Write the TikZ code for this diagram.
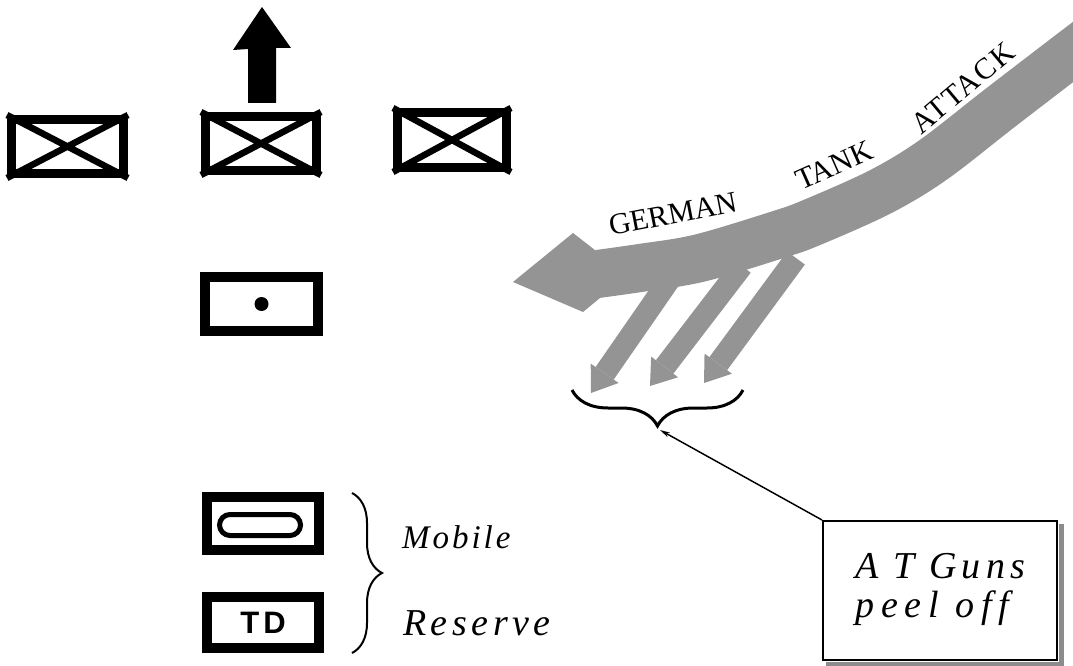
\documentclass[tikz,border=0pt]{standalone}
\usepackage{fontspec}
\newfontfamily\seriffam{Liberation Serif}
\newfontfamily\sansfam{Liberation Sans}
\usetikzlibrary{calc,decorations.pathreplacing,arrows.meta}

\begin{document}
\begin{tikzpicture}[x=1pt,y=-1pt,
  unitbox/.style={draw, line width=9pt, inner sep=0pt},
  heavybox/.style={draw, line width=10pt, inner sep=0pt},
  crossline/.style={line width=6.5pt},
  attack/.style={black!42},
  bandword/.style={inner sep=0pt, anchor=base west, font=\seriffam\fontsize{30pt}{32pt}\selectfont},
  bracemark/.style={decorate, line width=2pt},
  note/.style={inner sep=0pt, anchor=base west},
]
\useasboundingbox (0,0) rectangle (1073,666);

% --- infantry line with the advance arrow
\node[unitbox, minimum width=112pt, minimum height=54pt] (inf1) at (67.5,146.5) {};
\node[unitbox, minimum width=111pt, minimum height=54pt] (inf2) at (261,143.5) {};
\node[unitbox, minimum width=109pt, minimum height=55pt] (inf3) at (452,140) {};
\foreach \n in {inf1,inf2,inf3}{
  \draw[crossline] (\n.north west) -- (\n.south east) (\n.south west) -- (\n.north east);
}
\fill (248,103) -- (248,49) -- (233,50) -- (262,7) -- (291,48) -- (276,48) -- (276,103) -- cycle;

% --- headquarters
\node[heavybox, minimum width=113pt, minimum height=54pt] (hq) at (261.5,304) {};
\fill (hq.center) circle (7pt);

% --- mobile reserve
\node[heavybox, minimum width=112pt, minimum height=53pt] (armor) at (263,523.5) {};
\draw[line width=5pt, rounded corners=10.5pt]
  ($(armor.center)+(-43.5,-9)$) rectangle ($(armor.center)+(37.5,12)$);
\node[heavybox, minimum width=112pt, minimum height=51pt,
      font=\sansfam\bfseries\fontsize{31pt}{31pt}\selectfont] (td) at (263,622.5) {T\kern4pt D};

\draw[bracemark, decoration={brace, amplitude=30pt}] (352,493) -- (352,653);
\node[note, font=\seriffam\itshape\addfontfeature{LetterSpace=9}\fontsize{33pt}{35pt}\selectfont]
  (mobile) at (402,548) {Mobile};
\node[note, font=\seriffam\itshape\addfontfeature{LetterSpace=12}\fontsize{38pt}{40pt}\selectfont]
  (reserve) at (403,635) {Reserve};

% --- German tank attack band
\draw[attack, line width=48pt] plot[smooth, tension=0.55] coordinates
  {(1110,24) (1073,52) (1000,108) (933,160) (880,192)
   (813,222) (780,234) (700,258) (640,268) (590,275)};
\fill[attack] (573,233) -- (513,282) -- (583,312) -- (600,298) -- (600,254) -- cycle;

\coordinate (bs1) at (672,276); \coordinate (bt1) at (591,393);
\coordinate (bs2) at (742,266); \coordinate (bt2) at (650,386);
\coordinate (bs3) at (796,258); \coordinate (bt3) at (704,383);
\foreach \i in {1,2,3}{
  \coordinate (bm\i) at ($(bt\i)!24pt!(bs\i)$);
  \draw[attack, line width=22pt] (bs\i) -- (bm\i);
  \fill[attack] (bt\i) -- ($(bm\i)!17pt!90:(bt\i)$) -- ($(bm\i)!17pt!-90:(bt\i)$) -- cycle;
}

\node[bandword, rotate=11] (wgerman) at (611,236) {GERMAN};
\node[bandword, rotate=24] (wtank) at (801,191) {TANK};
\node[bandword, rotate=40, font=\seriffam\addfontfeature{LetterSpace=6}\fontsize{30pt}{32pt}\selectfont]
  (wattack) at (921,136) {ATTACK};

% --- anti-tank guns call-out
\draw[decorate, decoration={brace, amplitude=36pt}, line width=3pt] (743,390) -- (572,390);
\coordinate (bt) at (660,430);

\node[draw, line width=2pt, minimum width=234pt, minimum height=139pt, inner sep=0pt]
  (atbox) at (940,590.5) {};
\fill[black!45] ($(atbox.north east)+(1,4)$) rectangle ($(atbox.south east)+(6,6)$);
\fill[black!45] ($(atbox.south west)+(4,1)$) rectangle ($(atbox.south east)+(6,6)$);
\node[note, font=\seriffam\itshape\addfontfeature{LetterSpace=14}\fontsize{38pt}{40pt}\selectfont]
  (atl1) at (855,578) {A T Guns};
\node[note, font=\seriffam\itshape\addfontfeature{LetterSpace=18}\fontsize{38pt}{40pt}\selectfont]
  (atl2) at (855,617) {peel off};

\draw[line width=1.5pt, {Stealth[length=10pt,width=5pt]}-] (bt) -- (atbox.north west);
\end{tikzpicture}
\end{document}
